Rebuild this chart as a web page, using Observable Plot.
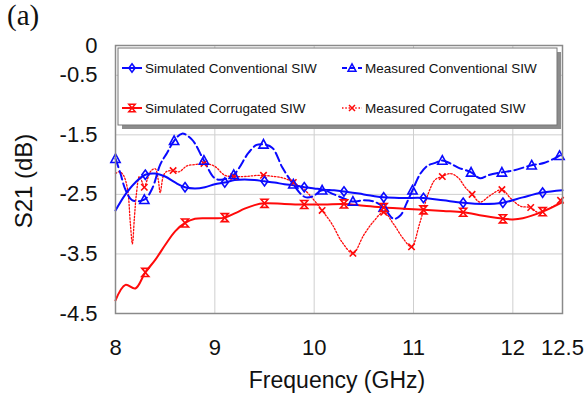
<!DOCTYPE html>
<html>
<head>
<meta charset="utf-8">
<script src="https://cdn.jsdelivr.net/npm/d3@7"></script>
<script src="https://cdn.jsdelivr.net/npm/@observablehq/plot@0.6"></script>
<style>
  html, body { margin: 0; padding: 0; background: #fff; }
  #chart { position: relative; width: 585px; height: 398px; }
  #chart svg { overflow: visible; }
</style>
</head>
<body>
<div id="chart"></div>
<script>
// ---- tick labels ----
const xTicks = [8, 9, 10, 11, 12, 12.5];
const xGrid = [9, 10, 11, 12];
const yTicks = [0, -0.5, -1.5, -2.5, -3.5, -4.5];
const yGrid = [-0.5, -1.5, -2.5, -3.5];

// ---- series names ----
const seriesNames = ["Simulated Conventional SIW", "Measured Conventional SIW", "Simulated Corrugated SIW", "Measured Corrugated SIW"];

// ---- Simulated Conventional SIW ----
const simConvFreq = [8.0, 8.1, 8.2, 8.3, 8.4, 8.5, 8.6, 8.7, 8.8, 8.9, 9.0, 9.1, 9.2, 9.3, 9.4, 9.5, 9.6, 9.7, 9.8, 9.9, 10.0, 10.1, 10.2, 10.3, 10.5, 10.7, 10.9, 11.1, 11.3, 11.5, 11.7, 11.9, 12.1, 12.3, 12.5];
const simConvS21 = [-2.77, -2.50, -2.30, -2.17, -2.15, -2.20, -2.30, -2.38, -2.40, -2.38, -2.33, -2.30, -2.26, -2.25, -2.26, -2.28, -2.30, -2.33, -2.35, -2.38, -2.40, -2.42, -2.43, -2.45, -2.50, -2.55, -2.56, -2.56, -2.60, -2.64, -2.66, -2.64, -2.55, -2.47, -2.43];
const simConvMarkFreq = [8.3, 8.7, 9.1, 9.5, 9.9, 10.3, 10.7, 11.1, 11.5, 11.9, 12.3];
const simConvMarkS21 = [-2.17, -2.38, -2.30, -2.28, -2.38, -2.45, -2.55, -2.56, -2.64, -2.64, -2.47];

// ---- Simulated Corrugated SIW ----
const simCorrFreq = [8.0, 8.1, 8.2, 8.3, 8.4, 8.5, 8.6, 8.7, 8.8, 8.9, 9.0, 9.1, 9.2, 9.3, 9.4, 9.5, 9.7, 9.9, 10.1, 10.3, 10.5, 10.7, 10.9, 11.1, 11.3, 11.5, 11.7, 11.9, 12.0, 12.1, 12.3, 12.5];
const simCorrS21 = [-4.28, -4.02, -4.08, -3.81, -3.60, -3.35, -3.12, -2.98, -2.91, -2.90, -2.90, -2.89, -2.82, -2.74, -2.68, -2.65, -2.66, -2.67, -2.67, -2.66, -2.69, -2.72, -2.74, -2.76, -2.78, -2.80, -2.86, -2.91, -2.92, -2.90, -2.79, -2.63];
const simCorrMarkFreq = [8.3, 8.7, 9.1, 9.5, 9.9, 10.3, 10.7, 11.1, 11.5, 11.9, 12.3];
const simCorrMarkS21 = [-3.81, -2.98, -2.89, -2.65, -2.67, -2.66, -2.72, -2.76, -2.80, -2.91, -2.79];

// ---- Measured Conventional SIW ----
const measConvFreq = [8.0, 8.05, 8.10, 8.17, 8.29, 8.37, 8.45, 8.52, 8.59, 8.67, 8.77, 8.89, 9.0, 9.08, 9.19, 9.34, 9.42, 9.49, 9.58, 9.68, 9.79, 9.87, 9.92, 9.99, 10.08, 10.2, 10.30, 10.39, 10.50, 10.60, 10.70, 10.80, 10.87, 10.93, 10.99, 11.07, 11.14, 11.22, 11.29, 11.37, 11.45, 11.58, 11.67, 11.75, 11.89, 12.0, 12.19, 12.32, 12.47, 12.5];
const measConvS21 = [-1.90, -2.15, -2.42, -2.60, -2.59, -2.40, -2.00, -1.80, -1.60, -1.48, -1.58, -1.93, -2.23, -2.25, -2.17, -1.80, -1.67, -1.66, -1.72, -2.05, -2.33, -2.50, -2.55, -2.53, -2.43, -2.50, -2.57, -2.62, -2.60, -2.62, -2.72, -2.91, -2.85, -2.65, -2.43, -2.15, -2.02, -1.97, -1.93, -1.98, -2.05, -2.13, -2.23, -2.18, -2.13, -2.10, -2.01, -1.97, -1.85, -1.82];
const measConvMarkFreq = [8.0, 8.29, 8.59, 8.89, 9.19, 9.49, 9.79, 10.08, 10.39, 10.70, 10.99, 11.29, 11.58, 11.89, 12.19, 12.47];
const measConvMarkS21 = [-1.90, -2.59, -1.60, -1.93, -2.17, -1.66, -2.33, -2.43, -2.62, -2.72, -2.43, -1.93, -2.13, -2.13, -2.01, -1.85];

// ---- Measured Corrugated SIW ----
const measCorrFreq = [8.0, 8.04, 8.08, 8.12, 8.15, 8.17, 8.19, 8.21, 8.24, 8.27, 8.29, 8.32, 8.36, 8.40, 8.43, 8.45, 8.48, 8.51, 8.57, 8.64, 8.72, 8.80, 8.89, 9.0, 9.1, 9.19, 9.3, 9.45, 9.6, 9.7, 9.79, 9.9, 10.0, 10.08, 10.18, 10.28, 10.39, 10.5, 10.6, 10.70, 10.8, 10.9, 10.98, 11.06, 11.15, 11.22, 11.29, 11.37, 11.45, 11.52, 11.59, 11.67, 11.77, 11.89, 11.98, 12.08, 12.18, 12.25, 12.36, 12.46, 12.5];
const measCorrS21 = [-2.15, -2.12, -2.18, -2.40, -3.00, -3.33, -2.90, -2.50, -2.20, -2.30, -2.38, -2.25, -2.10, -2.07, -2.25, -2.47, -2.20, -2.12, -2.10, -2.12, -2.02, -2.00, -1.98, -2.03, -2.18, -2.20, -2.20, -2.18, -2.20, -2.23, -2.30, -2.42, -2.60, -2.77, -3.00, -3.30, -3.49, -3.18, -2.95, -2.80, -3.00, -3.25, -3.38, -3.00, -2.48, -2.25, -2.20, -2.15, -2.22, -2.38, -2.50, -2.63, -2.52, -2.42, -2.57, -2.70, -2.72, -2.80, -2.74, -2.64, -2.55];
const measCorrMarkFreq = [8.29, 8.58, 8.89, 9.19, 9.49, 9.79, 10.08, 10.39, 10.70, 10.98, 11.29, 11.59, 11.89, 12.18, 12.48];
const measCorrMarkS21 = [-2.38, -2.10, -1.98, -2.20, -2.18, -2.30, -2.77, -3.49, -2.80, -3.38, -2.20, -2.50, -2.42, -2.72, -2.60];

// ---- build tables ----
const zip = (xs, ys) => xs.map((x, i) => ({x, y: ys[i]}));
const simConv = zip(simConvFreq, simConvS21), simConvM = zip(simConvMarkFreq, simConvMarkS21);
const simCorr = zip(simCorrFreq, simCorrS21), simCorrM = zip(simCorrMarkFreq, simCorrMarkS21);
const measConv = zip(measConvFreq, measConvS21), measConvM = zip(measConvMarkFreq, measConvMarkS21);
const measCorr = zip(measCorrFreq, measCorrS21), measCorrM = zip(measCorrMarkFreq, measCorrMarkS21);

const BLUE = "#0a0aff", RED = "#ff0a0a";

// ---- custom marker shapes ----
const tallDiamond = {draw(ctx, size) { const r = Math.sqrt(size / Math.PI);
  ctx.moveTo(0, -1.3 * r); ctx.lineTo(0.95 * r, 0); ctx.lineTo(0, 1.3 * r); ctx.lineTo(-0.95 * r, 0); ctx.closePath(); }};
const triangleUp = {draw(ctx, size) { const r = Math.sqrt(size / Math.PI);
  ctx.moveTo(0, -1.15 * r); ctx.lineTo(1.1 * r, 0.9 * r); ctx.lineTo(-1.1 * r, 0.9 * r); ctx.closePath(); }};
const hourglass = {draw(ctx, size) { const r = Math.sqrt(size / Math.PI);
  ctx.moveTo(-r, -1.15 * r); ctx.lineTo(r, -1.15 * r); ctx.lineTo(-r, 1.15 * r); ctx.lineTo(r, 1.15 * r); ctx.closePath(); }};
const crossX = {draw(ctx, size) { const r = Math.sqrt(size / Math.PI);
  ctx.moveTo(-r, -r); ctx.lineTo(r, r); ctx.moveTo(r, -r); ctx.lineTo(-r, r); }};

const W = 585, H = 398;
const svg = Plot.plot({
  width: W, height: H,
  marginLeft: 115, marginRight: 23, marginTop: 45, marginBottom: 85,
  style: {fontFamily: "'Liberation Sans', Arial, sans-serif", fontSize: "22px", color: "#111", background: "#fff"},
  x: {domain: [8, 12.5]},
  y: {domain: [-4.5, 0]},
  marks: [
    Plot.gridX(xGrid, {stroke: "#cfcfcf", strokeOpacity: 1, strokeWidth: 1}),
    Plot.gridY(yGrid, {stroke: "#cfcfcf", strokeOpacity: 1, strokeWidth: 1}),
    Plot.axisX({ticks: xTicks, tickSize: 0, tickPadding: 26, tickFormat: d => String(d), label: null, fontSize: 22}),
    Plot.axisY({ticks: yTicks, tickSize: 0, tickPadding: 18, tickFormat: d => String(d), label: null, fontSize: 22}),
    // measured corrugated (dotted)
    Plot.line(measCorr, {x: "x", y: "y", stroke: RED, strokeWidth: 1.3, strokeDasharray: "1.5,1.8", curve: "catmull-rom"}),
    // measured conventional (dashed)
    Plot.line(measConv, {x: "x", y: "y", stroke: BLUE, strokeWidth: 2, strokeDasharray: "9,4", curve: "catmull-rom"}),
    // simulated corrugated
    Plot.line(simCorr, {x: "x", y: "y", stroke: RED, strokeWidth: 2, curve: "catmull-rom"}),
    // simulated conventional
    Plot.line(simConv, {x: "x", y: "y", stroke: BLUE, strokeWidth: 2, curve: "catmull-rom"}),
    Plot.dot(measCorrM, {x: "x", y: "y", symbol: crossX, r: 3.2, stroke: RED, strokeWidth: 1.6, fill: "none"}),
    Plot.dot(measConvM, {x: "x", y: "y", symbol: triangleUp, r: 4.2, stroke: BLUE, strokeWidth: 1.6, fill: "none"}),
    Plot.dot(simCorrM, {x: "x", y: "y", symbol: hourglass, r: 3.5, stroke: RED, strokeWidth: 1.6, fill: "none"}),
    Plot.dot(simConvM, {x: "x", y: "y", symbol: tallDiamond, r: 3.6, stroke: BLUE, strokeWidth: 1.6, fill: "none"}),
    Plot.frame({stroke: "#8a8a8a", strokeWidth: 1.5})
  ]
});
document.getElementById("chart").appendChild(svg);

// ---- titles and legend (layout only) ----
const s = d3.select(svg);
const txt = (x, y, str, size, family, anchor) => s.append("text")
  .attr("x", x).attr("y", y).attr("text-anchor", anchor)
  .style("font-family", family).style("font-size", size + "px").attr("fill", "#111").text(str);
txt(7, 25, "(a)", 29, "'Liberation Serif', 'Times New Roman', serif", "start");
txt(337, 388, "Frequency (GHz)", 23, "'Liberation Sans', Arial, sans-serif", "middle");
s.append("text").attr("transform", "translate(32,181) rotate(-90)").attr("text-anchor", "middle")
  .style("font-family", "'Liberation Sans', Arial, sans-serif").style("font-size", "24px").attr("fill", "#111")
  .text("S21 (dB)");

const lg = s.append("g");
lg.append("rect").attr("x", 122).attr("y", 52).attr("width", 439).attr("height", 77).attr("fill", "#8c8c8c");
lg.append("rect").attr("x", 118).attr("y", 48).attr("width", 439).attr("height", 77).attr("fill", "#fff").attr("stroke", "#777").attr("stroke-width", 1);

const legendItems = [
  {name: seriesNames[0], color: BLUE, dash: null, sw: 2, sym: tallDiamond, r: 3.3, x: 122, y: 68},
  {name: seriesNames[1], color: BLUE, dash: "5,3", sw: 2, sym: triangleUp, r: 3.6, x: 342, y: 68},
  {name: seriesNames[2], color: RED, dash: null, sw: 2, sym: hourglass, r: 3.2, x: 122, y: 108},
  {name: seriesNames[3], color: RED, dash: "1.5,1.8", sw: 1.3, sym: crossX, r: 3, x: 342, y: 108}
];
for (const it of legendItems) {
  const g = lg.append("g");
  g.append("line").attr("x1", it.x).attr("x2", it.x + 20).attr("y1", it.y).attr("y2", it.y)
    .attr("stroke", it.color).attr("stroke-width", it.sw).attr("stroke-dasharray", it.dash);
  g.append("path").attr("d", d3.symbol(it.sym, Math.PI * it.r * it.r)())
    .attr("transform", `translate(${it.x + 10},${it.y})`)
    .attr("fill", "none").attr("stroke", it.color).attr("stroke-width", 1.5);
  g.append("text").attr("x", it.x + 23).attr("y", it.y).attr("dy", "0.35em").attr("text-anchor", "start")
    .style("font-family", "'Liberation Sans', Arial, sans-serif").style("font-size", "13.5px").attr("fill", "#111")
    .text(it.name);
}
</script>
</body>
</html>
